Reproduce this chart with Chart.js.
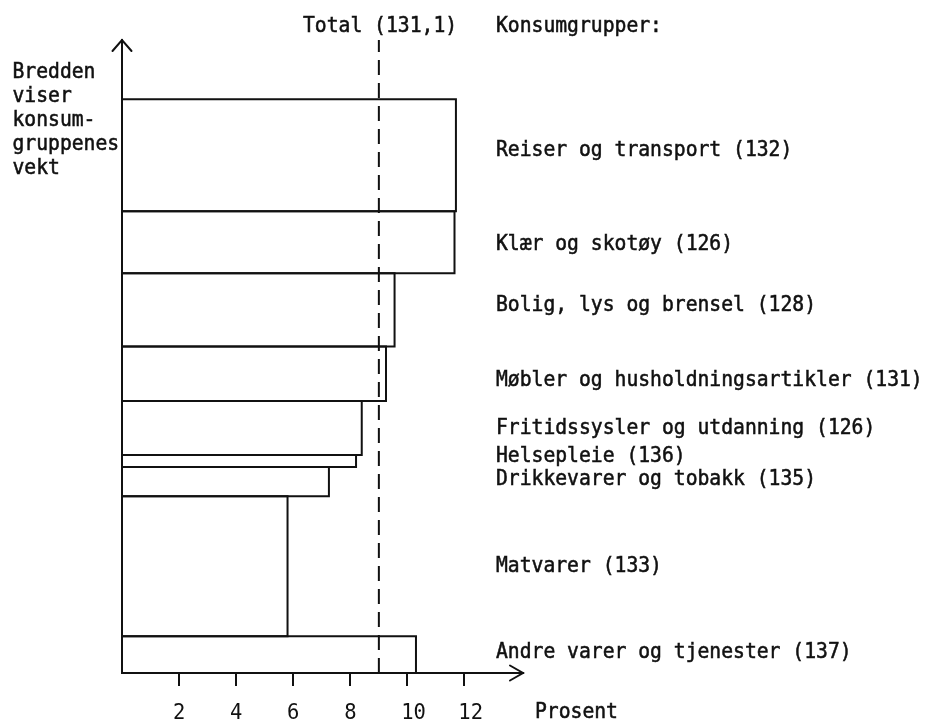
<!DOCTYPE html>
<html>
<head>
<meta charset="utf-8">
<script src="https://cdn.jsdelivr.net/npm/chart.js@4/dist/chart.umd.min.js"></script>
<style>
html,body{margin:0;padding:0;background:#fff;}
canvas{display:block;}
</style>
</head>
<body>
<canvas id="c" width="939" height="720"></canvas>
<script>
// ---- data (top to bottom) ----
const categories = ["Reiser og transport","Klær og skotøy","Bolig, lys og brensel","Møbler og husholdningsartikler","Fritidssysler og utdanning","Helsepleie","Drikkevarer og tobakk","Matvarer","Andre varer og tjenester"];
const priceIndex = [132,126,128,131,126,136,135,133,137];
const weights    = [19.5,10.8,12.8,9.5,9.4,2.1,5.1,24.4,6.4];
const changePct  = [11.7,11.65,9.55,9.25,8.4,8.2,7.25,5.8,10.3];
const totalIndex = 131.1;
const totalChange = 9.0;
const xTickLabels = ["2","4","6","8","10","12"];
const headerLabel = "Konsumgrupper:";
const xTitle = "Prosent";
const yTitleLines = ["Bredden","viser","konsum-","gruppenes","vekt"];

// ---- layout / style ----
const FONT = "'DejaVu Sans Mono', 'Liberation Mono', monospace";
const FSIZE = 19.7;
const INK = '#111';
const LAYOUT = {
  labelX: 496,
  labelY: [147.5, 242, 303, 378, 426, 454, 477, 564, 650],
  headerY: 24,
  totalX: 303,
  yTitleX: 12.5,
  yTitleY: [70, 94, 118, 142, 166],
  xTitleX: 535,
  xTitleY: 710,
  halfCap: 8,
  vScale: 1.12
};

// stacked vertical positions (bottom-up)
const n = categories.length;
const bottoms = new Array(n);
let acc = 0;
for (let i = n - 1; i >= 0; i--) { bottoms[i] = acc; acc += weights[i]; }
const Y_MAX = acc * 1.1034;
const X_MAX = 14.05;

const datasets = categories.map((c, i) => {
  const y0 = bottoms[i], y1 = bottoms[i] + weights[i], v = changePct[i];
  return {
    label: c,
    data: [{x:0,y:y0},{x:v,y:y0},{x:v,y:y1},{x:0,y:y1},{x:0,y:y0}],
    showLine: true, borderColor: INK, borderWidth: 2, pointRadius: 0,
    fill: false, tension: 0, clip: false, borderJoinStyle: 'miter'
  };
});
datasets.push({
  label: 'Total',
  data: [{x: totalChange, y: 0}, {x: totalChange, y: Y_MAX}],
  showLine: true, borderColor: INK, borderWidth: 2, borderDash: [15, 8],
  pointRadius: 0, fill: false, clip: false
});

function typeText(ctx, t, x, cy) {
  ctx.save();
  ctx.translate(x, cy + LAYOUT.halfCap);
  ctx.scale(1, LAYOUT.vScale);
  ctx.fillText(t, 0, 0);
  ctx.strokeText(t, 0, 0);
  ctx.restore();
}

const textPlugin = {
  id: 'texts',
  afterDraw(chart) {
    const ctx = chart.ctx;
    const xs = chart.scales.x, ys = chart.scales.y;
    ctx.save();
    ctx.fillStyle = INK;
    ctx.strokeStyle = INK;
    ctx.lineWidth = 0.5;
    ctx.font = FSIZE + 'px ' + FONT;
    ctx.textAlign = 'left';
    ctx.textBaseline = 'alphabetic';
    categories.forEach((c, i) => typeText(ctx, c + ' (' + priceIndex[i] + ')', LAYOUT.labelX, LAYOUT.labelY[i]));
    typeText(ctx, headerLabel, LAYOUT.labelX, LAYOUT.headerY);
    typeText(ctx, 'Total (' + String(totalIndex).replace('.', ',') + ')', LAYOUT.totalX, LAYOUT.headerY);
    yTitleLines.forEach((t, i) => typeText(ctx, t, LAYOUT.yTitleX, LAYOUT.yTitleY[i]));
    typeText(ctx, xTitle, LAYOUT.xTitleX, LAYOUT.xTitleY);

    // arrowheads
    ctx.lineWidth = 2;
    ctx.lineCap = 'round';
    ctx.lineJoin = 'miter';
    const ox = xs.getPixelForValue(0);
    const ty = ys.getPixelForValue(Y_MAX);
    ctx.beginPath();
    ctx.moveTo(ox - 9.5, ty + 11);
    ctx.lineTo(ox, ty);
    ctx.lineTo(ox + 9.5, ty + 11);
    ctx.stroke();
    const rx = xs.getPixelForValue(X_MAX);
    const oy = ys.getPixelForValue(0);
    ctx.beginPath();
    ctx.moveTo(rx - 13, oy - 7.5);
    ctx.lineTo(rx, oy);
    ctx.lineTo(rx - 13, oy + 7.5);
    ctx.stroke();
    ctx.restore();
  }
};

new Chart(document.getElementById('c'), {
  type: 'scatter',
  data: { datasets },
  options: {
    responsive: false,
    animation: false,
    devicePixelRatio: 1,
    layout: { padding: { left: 0, top: 40, right: 416, bottom: 0 } },
    plugins: { legend: { display: false }, tooltip: { enabled: false }, title: { display: false } },
    scales: {
      x: {
        type: 'linear', min: 0, max: X_MAX,
        afterBuildTicks: s => { s.ticks = xTickLabels.map(t => ({ value: Number(t) })); },
        afterFit: s => { s.height = 47; },
        grid: { display: true, drawOnChartArea: false, drawTicks: true, tickLength: 13,
                color: INK, tickColor: INK, lineWidth: 2, tickWidth: 2 },
        border: { display: true, color: INK, width: 2 },
        ticks: {
          color: INK, font: { family: FONT, size: 20.5 }, padding: 15,
          maxRotation: 0, autoSkip: false,
          callback: v => { const s = String(v); return s.length > 1 ? ' ' + s : s; }
        }
      },
      y: {
        type: 'linear', min: 0, max: Y_MAX,
        afterFit: s => { s.width = 122; },
        ticks: { display: false },
        grid: { display: false },
        border: { display: true, color: INK, width: 2 }
      }
    }
  },
  plugins: [textPlugin]
});
</script>
</body>
</html>
